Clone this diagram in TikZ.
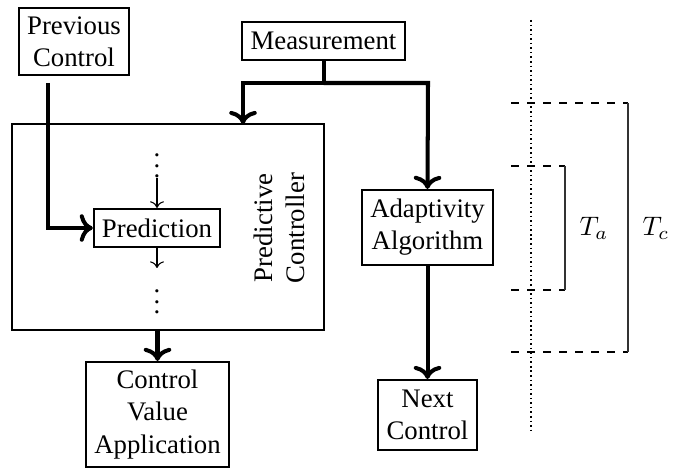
\documentclass[tikz,border=0pt]{standalone}
\usepackage{fontspec}
\setmainfont{Liberation Serif}
\usetikzlibrary{arrows.meta}
\begin{document}
\begin{tikzpicture}[x=0.3735pt,y=-0.3735pt,
  box/.style={draw, line width=0.8pt, align=center, inner sep=0pt},
  flow/.style={line width=1.5pt, ->},
  thinflow/.style={line width=0.4pt, ->},
  guide/.style={line width=0.4pt, dashed},
  brace/.style={line width=0.4pt, draw=black!80},
  dots/.style={inner sep=0pt, outer sep=0pt},
]
\useasboundingbox (0,0) rectangle (694,471);
% boxes
\node[box, minimum width=41.1pt, minimum height=25pt] (prev) at (74,41.5) {Previous\\Control};
\node[box, minimum width=60.9pt, minimum height=14.2pt] (meas) at (323.5,41) {Measurement};
\node[box, minimum width=116.5pt, minimum height=76.9pt] (pc) at (168,227) {};
\node[rotate=90, align=center] (pclabel) at (279,228) {Predictive\\Controller};
\node[box, minimum width=47.1pt, minimum height=14.2pt] (pred) at (157,228) {Prediction};
\node[box, minimum width=53.4pt, minimum height=39.2pt] (cva) at (157.5,414.5) {Control\\Value\\Application};
\node[box, minimum width=48.9pt, minimum height=28pt] (adapt) at (427.5,227.5) {Adaptivity\\Algorithm};
\node[box, minimum width=37pt, minimum height=26.1pt] (next) at (427.5,415) {Next\\Control};
% dots inside controller
\node[dots] (dtop) at (157,158) {$\vdots$};
\node[dots] (dbot) at (157,294) {$\vdots$};
\coordinate (dtopend) at (157,178);
\coordinate (dbotend) at (157,268);
\draw[thinflow] (dtopend) -- (pred.north);
\draw[thinflow] (pred.south) -- (dbotend);
% flows
\coordinate (prevstart) at (48,83);
\coordinate (prevcorner) at (48,228);
\draw[flow] (prevstart) -- (prevcorner) -- (pred.west);
\coordinate (msplit) at (323.5,83);
\coordinate (mleft) at (243,83);
\coordinate (mright) at (428,83);
\coordinate (pctop) at (243,124);
\draw[flow] (meas.south) -- (msplit) -- (mleft) -- (pctop);
\draw[flow] (msplit) -- (mright) -- (adapt.north);
\draw[flow] (pc.south -| cva.north) -- (cva.north);
\draw[flow] (adapt.south) -- (next.north);
% timing
\coordinate (vt) at (531,20);
\coordinate (vb) at (531,432);
\draw[line width=0.6pt, dash pattern=on 0.6pt off 1.1pt] (vt) -- (vb);
\coordinate (c1l) at (511,103); \coordinate (c1r) at (628,103);
\coordinate (a1l) at (511,166); \coordinate (a1r) at (565,166);
\coordinate (a2l) at (511,290); \coordinate (a2r) at (565,290);
\coordinate (c2l) at (511,352); \coordinate (c2r) at (628,352);
\draw[guide] (c1l) -- (c1r);
\draw[guide] (a1l) -- (a1r);
\draw[guide] (a2l) -- (a2r);
\draw[guide] (c2l) -- (c2r);
\draw[brace] (a1r) -- (a2r);
\draw[brace] (c1r) -- (c2r);
\node (ta) at (594,228) {$T_a$};
\node (tc) at (656,228) {$T_c$};
\end{tikzpicture}
\end{document}
